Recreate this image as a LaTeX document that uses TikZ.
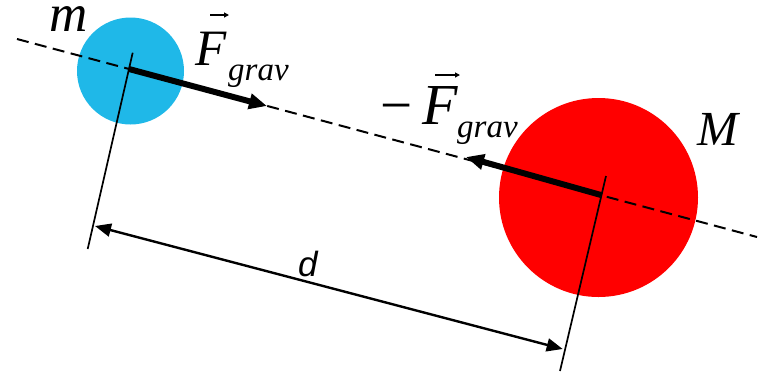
\documentclass[tikz,border=0pt]{standalone}
\usepackage{fontspec}
\setmainfont{Liberation Serif}
\newfontfamily\dfont{Liberation Sans}
\usetikzlibrary{arrows.meta}
\definecolor{smallball}{HTML}{1FB8E8}
\definecolor{bigball}{HTML}{FF0000}
\tikzset{
  ball/.style={circle, inner sep=0pt, draw=none},
  axisline/.style={line width=2pt, dash pattern=on 12pt off 6.5pt},
  forcearrow/.style={line width=6pt, -{Triangle[length=18pt,width=15pt]}},
  extline/.style={line width=1.7pt},
  dimline/.style={line width=2.4pt, {Triangle[length=16pt,width=13pt]}-{Triangle[length=16pt,width=13pt]}},
  vecarrow/.style={line width=1.2pt, -{Triangle[length=5pt,width=5pt]}},
  bigletter/.style={anchor=base west, inner sep=0pt, text height=0.7em, text depth=0pt},
  sublabel/.style={anchor=base west, inner sep=0pt, font=\fontsize{33}{33}\selectfont\itshape},
}
\begin{document}
\begin{tikzpicture}[x=1pt,y=-1pt]
\useasboundingbox (0,0) rectangle (769,373);
% balls
\node[ball, fill=smallball, minimum size=107pt] (small) at (130.5,71) {};
\node[ball, fill=bigball, minimum size=199pt] (big) at (598.5,197.5) {};
% axis
\coordinate (axL) at (17,39);
\coordinate (axR) at (757,237);
\draw[axisline] (axL) -- (axR);
% centres on axis
\coordinate (cs) at (129,69);
\coordinate (cb) at (601,195);
% extension lines
\coordinate (esT) at (132.7,52.7);
\coordinate (esB) at (87.7,249);
\coordinate (ebT) at (606,176);
\coordinate (ebB) at (560,371);
\draw[extline] (esT) -- (esB);
\draw[extline] (ebT) -- (ebB);
% forces
\coordinate (f1) at (267,106);
\coordinate (f2) at (466,157);
\draw[forcearrow] (cs) -- (f1);
\draw[forcearrow] (cb) -- (f2);
% dimension
\coordinate (dL) at (95,226);
\coordinate (dR) at (562.7,349);
\draw[dimline] (dL) -- (dR);
\node[anchor=base west, inner sep=0pt, font=\fontsize{35}{35}\dfont\itshape] (dlab) at (298,276) {d};
% labels
\node[bigletter, font=\fontsize{53}{53}\selectfont\itshape, text height=0.42em] (mlab) at (49,31) {m};
\node[bigletter, font=\fontsize{49}{49}\selectfont\itshape] (Mlab) at (697,145) {M};
\node[bigletter, font=\fontsize{51}{51}\selectfont\itshape] (F1) at (195,65) {F};
\node[sublabel] (g1) at (228,80) {grav};
\coordinate (v1a) at (210,15);
\coordinate (v1b) at (229,15);
\draw[vecarrow] (v1a) -- (v1b);
\node[bigletter, font=\fontsize{57}{57}\selectfont] (minus) at (380,124) {−};
\node[bigletter, font=\fontsize{58}{58}\selectfont\itshape] (F2) at (422,124) {F};
\node[sublabel] (g2) at (457,137) {grav};
\coordinate (v2a) at (435,75);
\coordinate (v2b) at (460,75);
\draw[vecarrow] (v2a) -- (v2b);
\end{tikzpicture}
\end{document}
